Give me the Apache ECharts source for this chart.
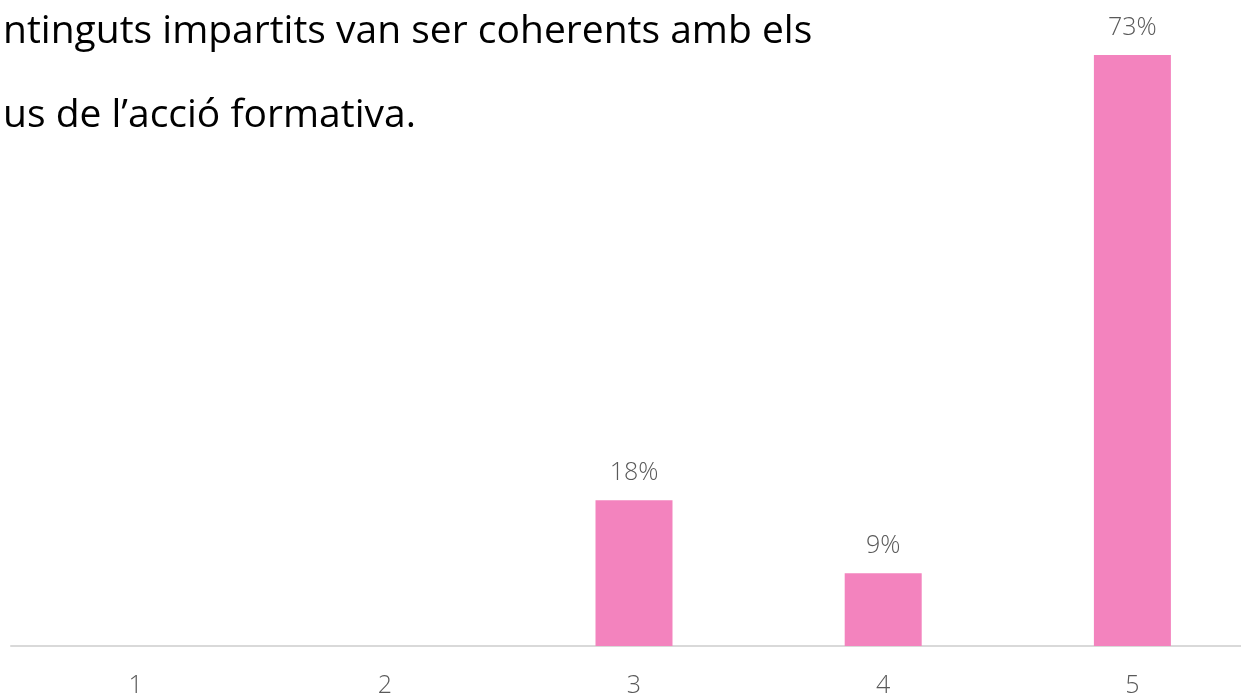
<!DOCTYPE html>
<html>
<head>
<meta charset="utf-8">
<script src="https://cdn.jsdelivr.net/npm/echarts@6/dist/echarts.min.js"></script>
<style>
  html, body { margin: 0; padding: 0; background: #fff; overflow: hidden; }
  #main { width: 1257px; height: 699px; }
</style>
</head>
<body>
<div id="main"></div>
<script type="text/javascript">
    var categories = ['1', '2', '3', '4', '5'];
    var percents = [0, 0, 18, 9, 73];
    var titleLines = ['ntinguts impartits van ser coherents amb els', 'us de l\u2019acció formativa.'];

    // the plot runs a bit past the right edge of the window, as in the original
    var myChart = echarts.init(document.getElementById('main'));
    var option = {
        animation: false,
        backgroundColor: '#ffffff',
        title: {
            text: titleLines.join('\n'),
            left: -2,
            top: -15,
            textStyle: {
                fontFamily: 'Open Sans',
                fontWeight: 'normal',
                fontSize: 39,
                color: '#000000',
                lineHeight: 84
            }
        },
        grid: {
            left: 11,
            right: 0,
            top: 55,
            bottom: 53
        },
        xAxis: {
            type: 'category',
            data: categories,
            axisLine: { lineStyle: { color: '#d9d9d9', width: 2 } },
            axisTick: { show: false },
            axisLabel: {
                color: '#595959',
                fontFamily: 'Open Sans',
                fontWeight: 300,
                fontSize: 25,
                margin: 27
            }
        },
        yAxis: {
            type: 'value',
            min: 0,
            max: 73,
            show: false,
            splitLine: { show: false }
        },
        series: [{
            type: 'bar',
            data: percents,
            barWidth: 77,
            itemStyle: { color: '#f383be' },
            label: {
                show: true,
                position: 'top',
                distance: 15,
                color: '#595959',
                fontFamily: 'Open Sans',
                fontWeight: 300,
                fontSize: 25,
                formatter: function (p) {
                    return p.value > 0 ? p.value + '%' : '';
                }
            }
        }]
    };
    myChart.setOption(option);
</script>
</body>
</html>
